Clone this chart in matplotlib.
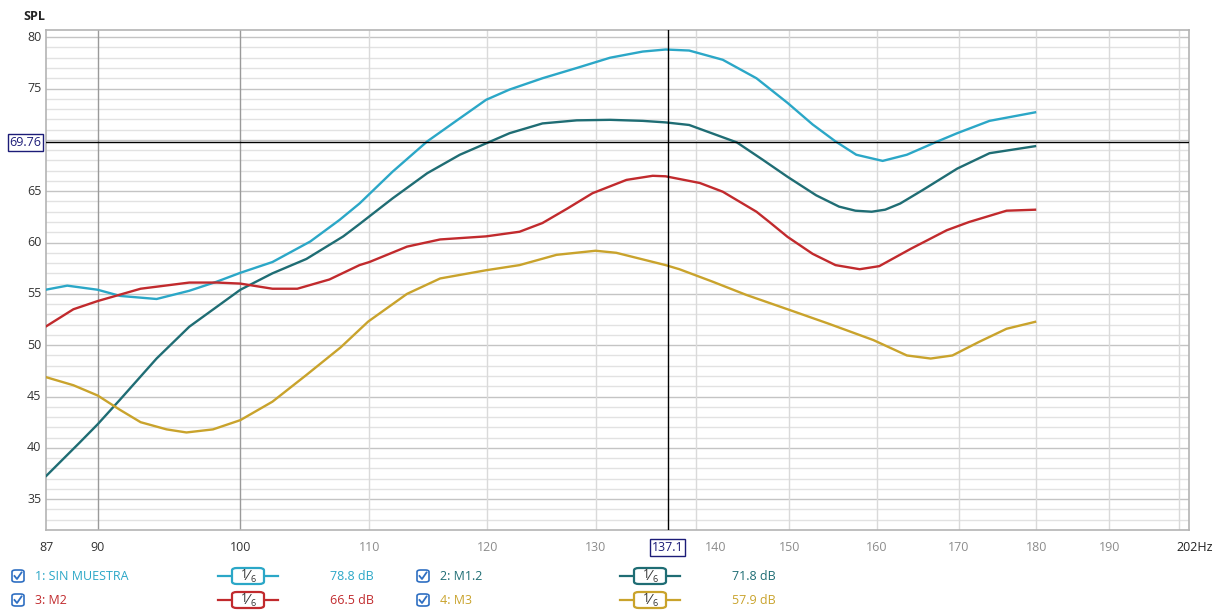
import numpy as np
import matplotlib
matplotlib.use("Agg")
import matplotlib.pyplot as plt
from matplotlib.patches import FancyBboxPatch
from matplotlib.lines import Line2D

plt.rcParams['font.family'] = ['Open Sans', 'DejaVu Sans']

W, H = 1219, 613

# Curvas medidas (frecuencia en Hz, nivel en dB)
f_sin = [86.6, 88.0, 90.0, 91.5, 94.0, 96.3, 98.3, 100.0, 102.4, 105.3, 107.6, 109.2,
         111.9, 114.8, 117.6, 119.9, 122.0, 125.0, 128.2, 131.4, 134.6, 136.9, 139.3,
         142.8, 146.4, 149.8, 152.6, 155.2, 157.6, 160.7, 163.6, 167.2, 169.8, 173.9, 180.0]
spl_sin = [55.4, 55.8, 55.4, 54.8, 54.5, 55.3, 56.2, 57.05, 58.1, 60.1, 62.2, 63.8,
           66.9, 69.85, 72.1, 73.9, 74.9, 76.0, 77.0, 78.0, 78.6, 78.8, 78.7,
           77.8, 76.0, 73.6, 71.5, 69.85, 68.55, 67.95, 68.55, 69.8, 70.65, 71.85, 72.7]

f_m12 = [86.6, 88.8, 90.0, 91.5, 94.0, 96.3, 100.0, 102.4, 105.0, 107.9, 109.2, 111.9,
         114.8, 117.6, 120.2, 122.0, 125.0, 128.2, 131.4, 134.6, 136.9, 139.3, 144.3,
         147.1, 149.8, 153.0, 155.6, 157.5, 159.4, 161.0, 162.8, 165.5, 169.8, 173.9, 180.0]
spl_m12 = [37.2, 40.5, 42.3, 44.7, 48.7, 51.8, 55.4, 57.0, 58.4, 60.6, 61.8, 64.3,
           66.75, 68.55, 69.8, 70.65, 71.6, 71.9, 71.95, 71.85, 71.7, 71.45, 69.75,
           68.05, 66.4, 64.6, 63.5, 63.1, 63.0, 63.2, 63.8, 65.1, 67.2, 68.7, 69.4]

f_m2 = [86.6, 88.4, 90.0, 92.9, 96.3, 98.3, 100.0, 102.4, 104.3, 106.8, 109.2, 110.0,
        113.1, 115.9, 119.9, 122.9, 125.0, 127.3, 129.7, 133.0, 135.6, 136.9, 140.4,
        142.8, 146.4, 147.8, 149.8, 152.6, 155.2, 158.0, 160.3, 164.1, 168.5, 171.3,
        176.1, 180.0]
spl_m2 = [51.8, 53.5, 54.3, 55.5, 56.1, 56.1, 56.0, 55.5, 55.5, 56.4, 57.8, 58.1,
          59.6, 60.3, 60.6, 61.05, 61.9, 63.3, 64.8, 66.1, 66.5, 66.45, 65.8,
          64.95, 63.0, 62.0, 60.55, 58.9, 57.8, 57.4, 57.7, 59.4, 61.2, 62.0,
          63.1, 63.2]

f_m3 = [86.6, 88.4, 90.0, 91.5, 92.9, 94.7, 96.1, 98.0, 100.0, 102.4, 105.0, 107.7,
        109.9, 113.1, 115.9, 119.9, 122.9, 126.3, 130.0, 132.0, 136.9, 138.3, 141.7,
        145.3, 149.8, 154.4, 159.6, 163.6, 166.5, 169.2, 172.5, 176.1, 180.0]
spl_m3 = [46.9, 46.1, 45.1, 43.7, 42.5, 41.8, 41.5, 41.8, 42.7, 44.5, 47.1, 49.8,
          52.3, 55.0, 56.5, 57.3, 57.8, 58.8, 59.2, 59.0, 57.8, 57.4, 56.2,
          54.9, 53.5, 52.1, 50.5, 49.0, 48.7, 49.0, 50.3, 51.6, 52.3]

names = ["1: SIN MUESTRA", "2: M1.2", "3: M2", "4: M3"]
readouts = ["78.8 dB", "71.8 dB", "66.5 dB", "57.9 dB"]
colors = ["#2ba7c7", "#1f6d74", "#c12a2d", "#c9a32c"]

cursor_f = 137.1
cursor_spl = 69.76

x_major = [90, 100]
x_minor = [110, 120, 130, 140, 150, 160, 170, 180, 190, 200]
x_edges = [86.63, 201.5]
x_edge_labels = ["87", "202Hz"]
y_ticks_shown = [35, 40, 45, 50, 55, 60, 65, 75, 80]


def fx(x):
    return x / W


def fy(y):
    return 1 - y / H


fig = plt.figure(figsize=(W / 100, H / 100), dpi=100)
ax = fig.add_axes([fx(46), fy(530), (1189 - 46) / W, (530 - 30) / H])
ax.set_xscale('log')
ax.set_xlim(x_edges)
ax.set_ylim(32.0, 80.7)

# rejilla
for v in range(33, 81):
    c = "#c4c4c4" if v % 5 == 0 else "#e2e2e2"
    ax.axhline(v, color=c, lw=1.0, zorder=0)
for v in x_minor:
    ax.axvline(v, color="#dadada", lw=1.0, zorder=0)
for v in x_major:
    ax.axvline(v, color="#9a9a9a", lw=1.0, zorder=0)

series = [(f_sin, spl_sin), (f_m12, spl_m12), (f_m2, spl_m2), (f_m3, spl_m3)]
for (f, s), c in zip(series, colors):
    ax.plot(f, s, color=c, lw=1.7, solid_joinstyle='round', solid_capstyle='butt', zorder=3)

# cursor
ax.axvline(cursor_f, color="black", lw=1.0, zorder=4)
ax.axhline(cursor_spl, color="black", lw=1.0, zorder=4)

for sp in ax.spines.values():
    sp.set_color("#b4b4b4")
    sp.set_linewidth(1.2)

ax.set_xticks([])
ax.set_yticks([])
ax.xaxis.set_minor_locator(matplotlib.ticker.NullLocator())

# etiquetas del eje Y
yt = ax.get_yaxis_transform()
for v in y_ticks_shown:
    ax.text(-0.004, v, str(v), transform=yt, ha='right', va='center',
            fontsize=9, color="#333333")
fig.text(fx(34), fy(17), "SPL", ha='center', va='center', fontsize=9, color="#222222",
         fontweight='bold')

# etiquetas del eje X
xt = ax.get_xaxis_transform()
for v in x_major:
    ax.text(v, -0.035, str(v), transform=xt, ha='center', va='center', fontsize=9, color="#333333")
for v in x_minor:
    if v in (140, 200):
        continue
    ax.text(v, -0.035, str(v), transform=xt, ha='center', va='center', fontsize=9, color="#8c8c8c")
ax.text(140.9, -0.035, "140", transform=xt, ha='left', va='center', fontsize=9, color="#8c8c8c")
ax.text(x_edges[0], -0.035, x_edge_labels[0], transform=xt, ha='center', va='center',
        fontsize=9, color="#333333")
ax.text(x_edges[1] * 1.004, -0.035, x_edge_labels[1], transform=xt, ha='center', va='center',
        fontsize=9, color="#222222")

# recuadros del cursor
box = dict(boxstyle='square,pad=0.15', fc='white', ec='#1c1c78', lw=1.0)
ax.text(cursor_f, -0.035, "137.1", transform=xt, ha='center', va='center', fontsize=9,
        color="#1c1c78", bbox=box, zorder=6)
ax.text(-0.004, cursor_spl, "69.76", transform=yt, ha='right',
        va='center', fontsize=9, color="#1c1c78", bbox=box, zorder=6)


def checkbox(x, y):
    fig.add_artist(FancyBboxPatch((fx(x - 6), fy(y + 6)), 12 / W, 12 / H,
                                  boxstyle="round,pad=0,rounding_size=0.003",
                                  fc='white', ec='#2f6fc2', lw=1.2,
                                  transform=fig.transFigure))
    fig.add_artist(Line2D([fx(x - 3.5), fx(x - 1), fx(x + 3.5)],
                          [fy(y), fy(y + 3), fy(y - 3.5)],
                          color='#2f6fc2', lw=1.3, transform=fig.transFigure))


def badge(x, y, c):
    fig.add_artist(Line2D([fx(x - 30), fx(x + 30)], [fy(y), fy(y)], color=c, lw=1.6,
                          transform=fig.transFigure))
    fig.add_artist(FancyBboxPatch((fx(x - 16), fy(y + 8)), 32 / W, 16 / H,
                                  boxstyle="round,pad=0,rounding_size=0.004",
                                  fc='white', ec=c, lw=1.6, transform=fig.transFigure,
                                  zorder=3))
    fig.text(fx(x - 4), fy(y - 1), "1", ha='center', va='center', fontsize=8.5,
             color="#333333", zorder=4)
    fig.text(fx(x), fy(y), "\u2044", ha='center', va='center', fontsize=10,
             color="#333333", zorder=4, family='DejaVu Sans')
    fig.text(fx(x + 5), fy(y + 3), "6", ha='center', va='center', fontsize=6.5,
             color="#333333", zorder=4)


# leyenda inferior
rows = [576, 600]
cols = [(18, 248, 330), (423, 650, 732)]
order = [(0, 0, 0), (1, 0, 1), (2, 1, 0), (3, 1, 1)]
for i, r, c in order:
    y = rows[r]
    cx, bx, tx = cols[c]
    checkbox(cx, y)
    fig.text(fx(cx + 17), fy(y), names[i], ha='left', va='center', fontsize=9, color=colors[i])
    badge(bx, y, colors[i])
    fig.text(fx(tx), fy(y), readouts[i], ha='left', va='center', fontsize=9, color=colors[i])

fig.savefig("out.png", dpi=100, facecolor='white')
